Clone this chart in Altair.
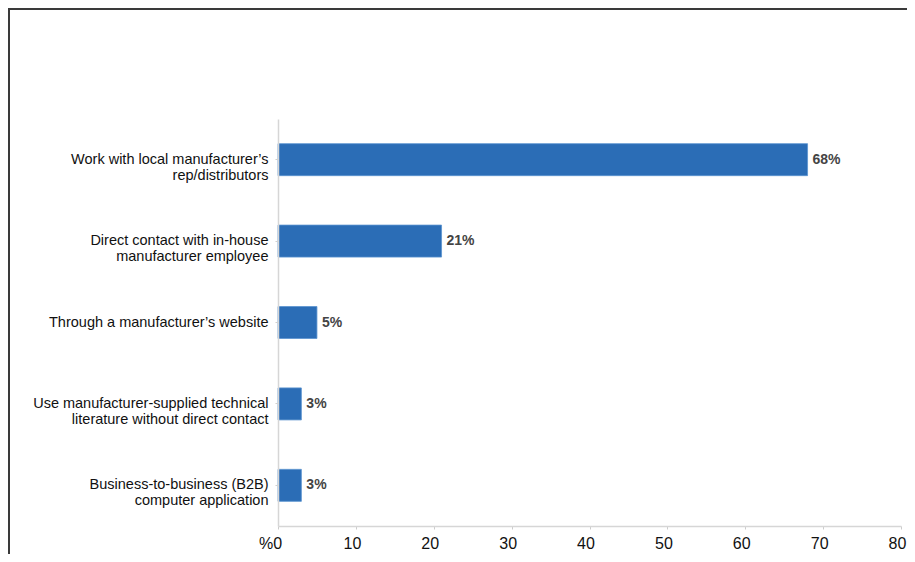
import altair as alt
import pandas as pd

categories = [
    "Work with local manufacturer’s\nrep/distributors",
    "Direct contact with in-house\nmanufacturer employee",
    "Through a manufacturer’s website",
    "Use manufacturer-supplied technical\nliterature without direct contact",
    "Business-to-business (B2B)\ncomputer application",
]
values = [68, 21, 5, 3, 3]
value_labels = ["68%", "21%", "5%", "3%", "3%"]
x_ticks = [0, 10, 20, 30, 40, 50, 60, 70, 80]

df = pd.DataFrame({"cat": categories, "val": values, "lab": value_labels})
frame = pd.DataFrame({"a": [0]})

PAD_L, PAD_T = 270, 111
W, H = 623, 407
TOTAL_W, TOTAL_H = 899, 546

sans = "Liberation Sans, Arial, Helvetica, sans-serif"

y_enc = alt.Y(
    "cat:N",
    sort=categories,
    scale=alt.Scale(paddingInner=0.607, paddingOuter=0.303),
    axis=alt.Axis(
        title=None,
        labelExpr="split(datum.label, '\\n')",
        labelFont=sans,
        labelFontSize=14.5,
        labelLineHeight=16,
        labelColor="#111111",
        labelLimit=0,
        labelPadding=7,
        tickSize=3,
        tickColor="#cfcfcf",
        domainColor="#d6d6d6",
        domainWidth=1.5,
        zindex=1,
    ),
)

x_enc = alt.X(
    "val:Q",
    scale=alt.Scale(domain=[0, 80], nice=False, zero=True),
    axis=alt.Axis(
        title=None,
        values=x_ticks,
        grid=False,
        labelFlush=False,
        labelExpr="datum.value == 0 ? '%0' : datum.label",
        labelFont=sans,
        labelFontSize=16,
        labelColor="#111111",
        labelPadding=6,
        labelOffset={"condition": {"test": "datum.value == 0", "value": -8}, "value": -4},
        tickSize=3,
        tickColor="#cccccc",
        domainColor="#d6d6d6",
        domainWidth=1.5,
        zindex=1,
    ),
)

left_border = alt.Chart(frame).mark_rule(color="#3a3a3a", strokeWidth=2).encode(
    x=alt.value(-PAD_L + 1),
    y=alt.value(-PAD_T),
    y2=alt.value(TOTAL_H - PAD_T + 10),
)
top_border = alt.Chart(frame).mark_rule(color="#3a3a3a", strokeWidth=2).encode(
    x=alt.value(-PAD_L),
    x2=alt.value(TOTAL_W - PAD_L + 10),
    y=alt.value(-PAD_T + 1),
)

bars = alt.Chart(df).mark_bar(color="#2b6db6", stroke="#5b93cf", strokeWidth=0.8).encode(
    x=x_enc, y=y_enc
)

texts = alt.Chart(df).mark_text(
    align="left", baseline="middle", dx=5, fontWeight="bold", fontSize=14,
    font=sans, color="#444444"
).encode(
    x=alt.X("val:Q"), y=alt.Y("cat:N", sort=categories), text="lab:N"
)

chart = alt.layer(left_border, top_border, bars, texts).properties(
    width=W,
    height=H,
    background="white",
    autosize=alt.AutoSizeParams(type="none"),
    padding={"left": PAD_L, "top": PAD_T, "right": TOTAL_W - PAD_L - W, "bottom": TOTAL_H - PAD_T - H},
).configure_view(stroke=None)

chart.save("out.html", embed_options={"renderer": "svg", "actions": False})
